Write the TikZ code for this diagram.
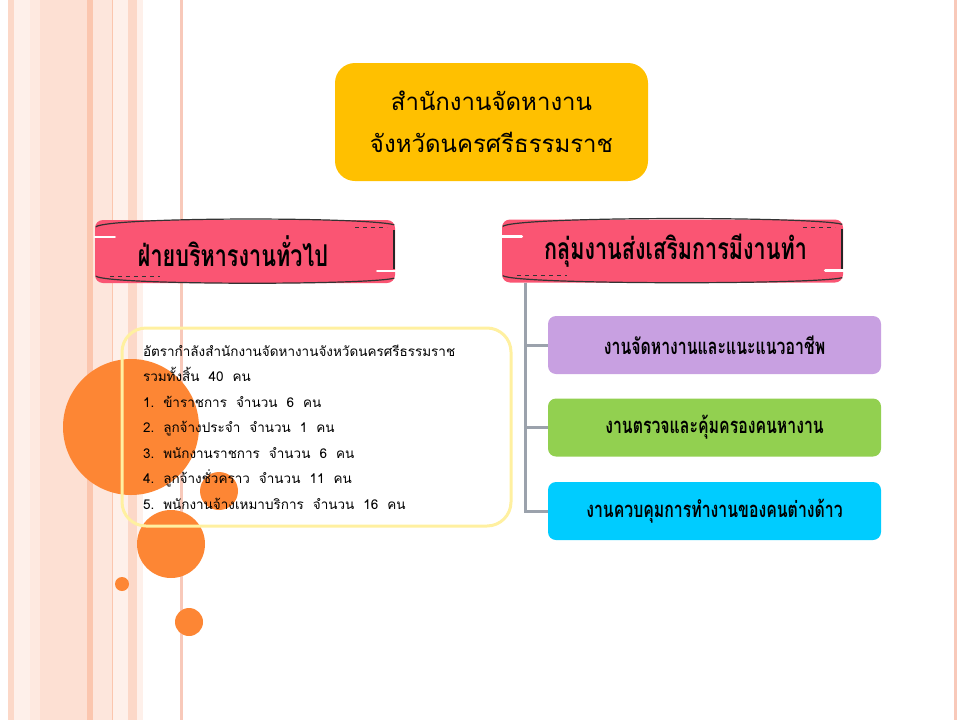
\documentclass[tikz,border=0pt]{standalone}
\usepackage{fontspec}
\newfontfamily\thaifont[Script=Thai]{Loma}
\newfontfamily\thaicond[Script=Thai,FakeStretch=0.72]{Loma}
\usetikzlibrary{positioning}
\definecolor{gold}{RGB}{255,192,0}
\definecolor{ribbon}{RGB}{250,85,115}
\definecolor{lilac}{RGB}{200,160,225}
\definecolor{lime}{RGB}{146,208,80}
\definecolor{skyblue}{RGB}{0,204,255}
\definecolor{dotorange}{RGB}{253,134,52}
\definecolor{boxyellow}{RGB}{255,240,160}
\definecolor{branchgray}{RGB}{155,162,172}
\definecolor{stripeA}{RGB}{252,216,200}
\definecolor{stripeB}{RGB}{254,240,234}
\definecolor{stripeC}{RGB}{253,224,211}
\definecolor{stripeD}{RGB}{251,198,174}
\definecolor{stripeE}{RGB}{248,201,186}
\begin{document}
\begin{tikzpicture}[x=1pt,y=-1pt,
  titlebox/.style={fill=gold,rounded corners=20pt,minimum width=313pt,minimum height=118pt,
    align=center,font=\thaifont\fontsize{24}{42}\selectfont},
  banner/.style={fill=ribbon,rounded corners=8pt,minimum height=63pt},
  bannertext/.style={font=\thaicond\bfseries\fontsize{30}{30}\selectfont},
  jobbox/.style={rounded corners=8pt,minimum width=333pt,minimum height=58pt,
    font=\thaicond\bfseries\fontsize{22}{22}\selectfont},
  dot/.style={circle,fill=dotorange,inner sep=0pt},
  branch/.style={draw=branchgray,line width=3pt}]
\useasboundingbox (0,0) rectangle (960,720);
% background stripes
\fill[stripeA] (8,0) rectangle (14,720);
\fill[stripeB] (14,0) rectangle (30,720);
\fill[stripeC!70!white] (30,0) rectangle (40,720);
\fill[stripeC] (40,0) rectangle (87,720);
\fill[stripeD] (87,0) rectangle (93,720);
\fill[stripeC!80!white] (93,0) rectangle (112,720);
\fill[stripeD] (112,0) rectangle (113,720);
\fill[stripeB] (113,0) rectangle (128,720);
\fill[stripeA] (128,0) rectangle (137,720);
\fill[stripeB] (137,0) rectangle (143,720);
\fill[stripeE] (180,0) rectangle (183,720);
\fill[stripeE] (954,0) rectangle (957,720);
% circles
\node[dot,minimum size=136pt] (bigdot) at (131,427) {};
\node[dot,minimum size=68pt] (middot) at (171,544) {};
\node[dot,minimum size=38pt] (smalldot) at (219,491) {};
\node[dot,minimum size=14pt] (tinydot) at (122,584) {};
\node[dot,minimum size=28pt] (lowdot) at (189,622) {};

\node[titlebox] (office) at (491.5,122) {สำนักงานจัดหางาน\\จังหวัดนครศรีธรรมราช};

\node[banner,minimum width=300pt,
  label={[name=ltext,bannertext,xshift=-12pt]center:ฝ่ายบริหารงานทั่วไป}] (lban) at (245,251.5) {};
\node[banner,minimum width=341pt,
  label={[name=rtext,bannertext,xshift=3pt]center:กลุ่มงานส่งเสริมการมีงานทำ}] (rban) at (672.5,251) {};
\foreach \b in {lban,rban} {
  \draw[black!80,line width=1.2pt] ([shift={(1,7)}]\b.north west) .. controls ([shift={(15,-3)}]\b.north west)
    and ([shift={(-30,-3)}]\b.north east) .. ([shift={(-1,5)}]\b.north east);
  \draw[black!80,line width=1.2pt] ([shift={(1,-7)}]\b.south west) .. controls ([shift={(15,2)}]\b.south west)
    and ([shift={(-30,2)}]\b.south east) .. ([shift={(-1,-5)}]\b.south east);
  \draw[black!85,line width=2pt] ([shift={(-1,10)}]\b.north east) -- ([shift={(-1,-14)}]\b.south east);
  \draw[white,line width=2.5pt,line cap=round] ([shift={(0,17)}]\b.north west) -- ([shift={(20,17)}]\b.north west);
  \draw[white,line width=2.5pt,line cap=round] ([shift={(-18,-12)}]\b.south east) -- ([shift={(1,-12)}]\b.south east);
  \draw[black!80,line width=1.2pt,dash pattern=on 4pt off 4pt] ([shift={(-40,8)}]\b.north east) -- ([shift={(-8,8)}]\b.north east);
  \draw[black!80,line width=1.2pt,dash pattern=on 4pt off 4pt] ([shift={(15,-7)}]\b.south west) -- ([shift={(65,-7)}]\b.south west);
}

\node[draw=boxyellow,line width=3pt,rounded corners=24pt,minimum width=389pt,minimum height=198pt,
  text width=347pt,align=left,font=\thaifont\fontsize{13.5}{25.5}\selectfont] (staff) at (316.5,427)
  {อัตรากำลังสำนักงานจัดหางานจังหวัดนครศรีธรรมราช\\
   รวมทั้งสิ้น\ \ 40\ \ คน\\
   1.\ \ ข้าราชการ\ \ จำนวน\ \ 6\ \ คน\\
   2.\ \ ลูกจ้างประจำ\ \ จำนวน\ \ 1\ \ คน\\
   3.\ \ พนักงานราชการ\ \ จำนวน\ \ 6\ \ คน\\
   4.\ \ ลูกจ้างชั่วคราว\ \ จำนวน\ \ 11\ \ คน\\
   5.\ \ พนักงานจ้างเหมาบริการ\ \ จำนวน\ \ 16\ \ คน};

\node[jobbox,fill=lilac] (job1) at (714.5,345) {งานจัดหางานและแนะแนวอาชีพ};
\node[jobbox,fill=lime] (job2) at (714.5,427.5) {งานตรวจและคุ้มครองคนหางาน};
\node[jobbox,fill=skyblue] (job3) at (714.5,511) {งานควบคุมการทำงานของคนต่างด้าว};

\coordinate (trunk) at ([xshift=24pt]rban.south west);
\draw[branch] (trunk) |- (job3.west);
\draw[branch] (trunk) |- (job1.west);
\draw[branch] (trunk) |- (job2.west);
\end{tikzpicture}
\end{document}
